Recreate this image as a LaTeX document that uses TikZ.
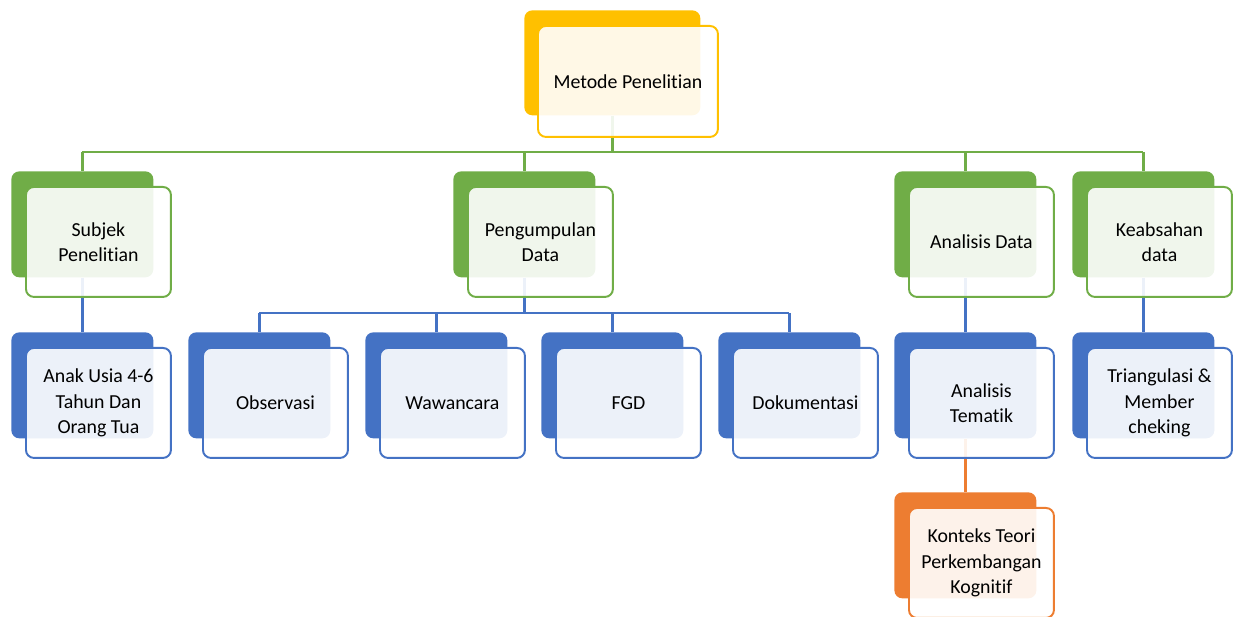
\documentclass[tikz,border=0pt]{standalone}
\usepackage{fontspec}
\setmainfont{Carlito}[Ligatures={NoCommon,NoContextual}]
\usetikzlibrary{positioning,calc}
\definecolor{SkemaGold}{HTML}{FFC000}
\definecolor{SkemaGreen}{HTML}{70AD47}
\definecolor{SkemaBlue}{HTML}{4472C4}
\definecolor{SkemaOrange}{HTML}{ED7D31}
\newcommand{\boxfont}{\fontsize{11.3}{14.5}\selectfont}
\tikzset{
  backbox/.style={fill=#1,rounded corners=0.16cm,minimum width=2.84cm,minimum height=2.12cm,inner sep=0pt,anchor=north west},
  frontbox/.style={draw=#1,line width=1.1pt,fill=white,fill opacity=0.9,text opacity=1,rounded corners=0.16cm,
    minimum width=2.9cm,minimum height=2.2cm,inner sep=2pt,align=center,anchor=north west,font=\boxfont},
  link/.style={draw=#1,line width=1.4pt}
}
\begin{document}
\begin{tikzpicture}[x=0.02cm,y=-0.02cm]
\useasboundingbox (0,0) rectangle (1233,617);
% back boxes
\node[backbox=SkemaGold,minimum width=3.52cm,minimum height=2.1cm] (metodeB) at (524,10) {};
\foreach \n/\x in {subjek/11,kumpul/453,analisis/894,absah/1072}
  \node[backbox=SkemaGreen] (\n B) at (\x,171) {};
\foreach \n/\x in {anak/11,obs/188,waw/365,fgd/541,dok/718,tema/894,tri/1072}
  \node[backbox=SkemaBlue] (\n B) at (\x,332) {};
\node[backbox=SkemaOrange] (konteksB) at (894,492) {};
% connectors
\coordinate (busA) at (0,152);
\coordinate (busB) at (0,313);
\draw[link=SkemaGreen] (metodeB.south) -- (metodeB.south |- busA);
\draw[link=SkemaGreen] (busA -| subjekB.north) -- (busA -| absahB.north);
\foreach \n in {subjek,kumpul,analisis,absah}
  \draw[link=SkemaGreen] (busA -| \n B.north) -- (\n B.north);
\draw[link=SkemaBlue] (kumpulB.south) -- (kumpulB.south |- busB);
\draw[link=SkemaBlue] (busB -| obsB.north) -- (busB -| dokB.north);
\foreach \n in {obs,waw,fgd,dok}
  \draw[link=SkemaBlue] (busB -| \n B.north) -- (\n B.north);
\draw[link=SkemaBlue] (subjekB.south) -- (anakB.north);
\draw[link=SkemaBlue] (analisisB.south) -- (temaB.north);
\draw[link=SkemaBlue] (absahB.south) -- (triB.north);
\draw[link=SkemaOrange] (temaB.south) -- (konteksB.north);
% front boxes
\node[frontbox=SkemaGold,minimum width=3.6cm,minimum height=2.22cm] (metode) at ([shift={(13,15)}]metodeB.north west) {Metode Penelitian};
\foreach \n/\t in {subjek/{Subjek\\Penelitian},kumpul/{Pengumpulan\\Data},analisis/{Analisis Data},absah/{Keabsahan\\data}}
  \node[frontbox=SkemaGreen] (\n) at ([shift={(14,15)}]\n B.north west) {\t};
\foreach \n/\t in {anak/{Anak Usia 4-6\\Tahun Dan\\Orang Tua},obs/Observasi,waw/Wawancara,fgd/FGD,dok/Dokumentasi,tema/{Analisis\\Tematik},tri/{Triangulasi \&\\Member\\cheking}}
  \node[frontbox=SkemaBlue] (\n) at ([shift={(14,15)}]\n B.north west) {\t};
\node[frontbox=SkemaOrange] (konteks) at ([shift={(14,15)}]konteksB.north west) {Konteks Teori\\Perkembangan\\Kognitif};
\end{tikzpicture}
\end{document}
